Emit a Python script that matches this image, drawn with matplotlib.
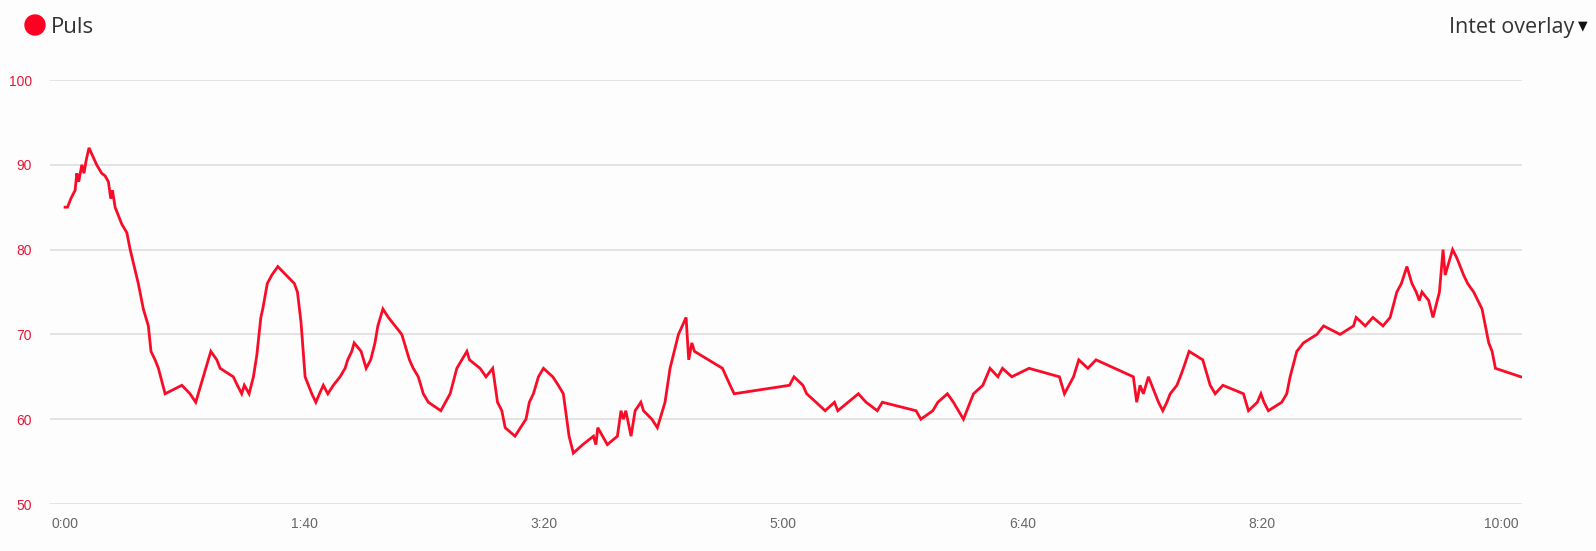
import matplotlib.pyplot as plt
from matplotlib.patches import Ellipse
from matplotlib.ticker import FuncFormatter, MultipleLocator

# time in seconds, pulse in bpm
seconds = [0, 1, 2.4, 4.2, 4.9, 5.7, 7.0, 7.9, 8.8, 10.0, 11.6, 13.2, 15.3, 16.7, 18.1,
           19.1, 19.8, 20.9, 22.3, 23.7, 25.8, 27.2, 30.6, 32.7, 34.8, 35.9, 37.6, 39.0,
           41.8, 48.8, 52.2, 54.6, 60.9, 63.4, 64.8, 70.3, 72.0, 73.8, 74.9, 76.9, 78.7,
           80.1, 81.8, 82.6, 84.5, 86.4, 88.9, 95.8, 97.1, 98.6, 100.3, 101.7, 103.1,
           104.8, 106.3, 107.9, 109.8, 112.1, 114.9, 117.0, 118.1, 119.8, 120.8, 123.7,
           125.8, 127.7, 129.5, 130.7, 132.8, 135.1, 137.9, 140.7, 143.9, 145.5, 147.6,
           149.7, 151.8, 157.0, 160.9, 163.7, 165.8, 167.9, 169.0, 173.4, 175.9, 178.7,
           180.7, 182.5, 183.9, 188.0, 192.6, 194.0, 195.7, 197.8, 199.9, 203.8, 206.1,
           208.2, 210.6, 212.4, 216.3, 220.8, 221.8, 222.6, 226.6, 230.8, 232.3, 233.3,
           234.3, 236.5, 238.2, 240.6, 241.7, 245.2, 247.5, 250.7, 252.8, 256.3, 259.5,
           260.6, 261.9, 263.0, 274.7, 277.9, 279.6, 302.7, 304.6, 308.3, 309.9, 313.8,
           317.6, 321.5, 322.9, 331.5, 334.7, 339.4, 341.5, 355.6, 357.6, 362.6, 364.7,
           368.7, 371.2, 375.4, 379.6, 383.5, 386.5, 389.8, 391.7, 395.6, 402.8, 415.5,
           417.6, 421.4, 423.6, 427.4, 430.8, 446.4, 447.8, 449.2, 450.6, 452.7, 454.1,
           456.9, 458.7, 460.4, 461.8, 464.6, 466.0, 467.3, 469.7, 475.4, 478.5, 480.6,
           483.8, 492.4, 494.5, 498.2, 499.7, 501.0, 502.8, 508.4, 510.5, 511.9, 514.7,
           517.5, 523.1, 525.9, 532.8, 538.4, 539.5, 543.3, 546.5, 550.7, 553.7, 556.5,
           558.4, 560.7, 562.8, 564.6, 565.9, 567.0, 569.8, 571.6, 574.3, 575.8, 576.7,
           579.8, 581.6, 584.4, 586.1, 588.6, 592.1, 593.5, 594.9, 596.3, 597.7, 608.3]
pulse = [85, 85, 86, 87, 89, 88, 90, 89, 90.5, 92, 91, 90, 89, 88.7, 88,
         86, 87, 85, 84, 83, 82, 80, 76, 73, 71, 68, 67, 66,
         63, 64, 63, 62, 68, 67, 66, 65, 64, 63, 64, 63, 65,
         67.5, 72, 73, 76, 77, 78, 76, 75, 71.4, 65, 64, 63,
         62, 63, 64, 63, 64, 65, 66, 67, 68, 69, 68,
         66, 67, 69, 71, 73, 72, 71, 70, 67, 66, 65,
         63, 62, 61, 63, 66, 67, 68, 67, 66, 65, 66,
         62, 61, 59, 58, 60, 62, 63, 65, 66, 65, 64,
         63, 58, 56, 57, 58, 57, 59, 57, 58, 61, 60,
         61, 58, 61, 62, 61, 60, 59, 62, 66, 70, 72,
         67, 69, 68, 66, 64, 63, 64, 65, 64, 63, 62,
         61, 62, 61, 63, 62, 61, 62, 61, 60, 61, 62,
         63, 62, 60, 63, 64, 66, 65, 66, 65, 66, 65,
         63, 65, 67, 66, 67, 65, 62, 64, 63, 65, 64,
         62, 61, 62, 63, 64, 65, 66, 68, 67, 64, 63,
         64, 63, 61, 62, 63, 62, 61, 62, 63, 65, 68,
         69, 70, 71, 70, 71, 72, 71, 72, 71, 72, 75,
         76, 78, 76, 75, 74, 75, 74, 72, 75, 80, 77,
         80, 79, 77, 76, 75, 73, 71, 69, 68, 66, 65]
y_ticks = [50, 60, 70, 80, 90, 100]

RED = '#f80c28'
W, H = 1596, 551


def mmss(x, pos):
    return f"{int(x) // 60}:{int(x) % 60:02d}"


def plot_graph():
    fig = plt.figure(figsize=(W / 100, H / 100), dpi=100)
    fig.patch.set_facecolor('#fdfdfd')
    ax = fig.add_axes([50 / W, 47 / H, 1472 / W, 424 / H])
    ax.set_facecolor('#fdfdfd')

    ax.plot(seconds, pulse, color=RED, lw=2.0, solid_joinstyle='miter', zorder=3)

    ax.set_xlim(-6.3, 608.8)
    ax.set_ylim(50, 100)
    ax.set_yticks(y_ticks)
    ax.xaxis.set_major_locator(MultipleLocator(100))
    ax.xaxis.set_major_formatter(FuncFormatter(mmss))
    ax.grid(axis='y', color='#dcdcdc', lw=1.1)
    ax.set_axisbelow(True)
    for s in ax.spines.values():
        s.set_visible(False)
    ax.tick_params(axis='both', length=0)
    ax.tick_params(axis='y', pad=13, labelcolor='#e31937', labelsize=10)
    ax.tick_params(axis='x', pad=9, labelcolor='#666666', labelsize=10)
    for lbl in ax.get_xticklabels() + ax.get_yticklabels():
        lbl.set_family('Liberation Sans')

    # legend dot + title
    fig.patches.append(Ellipse((35 / W, 1 - 25 / H), 20 / W, 20 / H,
                               transform=fig.transFigure, color='#ff0022'))
    fig.text(51 / W, 1 - 25 / H, "Puls", family='Open Sans', fontsize=16,
             color='#333333', va='center_baseline', ha='left')
    fig.text(1574 / W, 1 - 25 / H, "Intet overlay", family='Open Sans', fontsize=15.5,
             color='#333333', va='center_baseline', ha='right')
    fig.text(1583 / W, 1 - 26 / H, "\u25bc", family='DejaVu Sans', fontsize=9,
             color='#111111', va='center', ha='center')

    fig.savefig('out.png', dpi=100, facecolor=fig.get_facecolor())


def main():
    plot_graph()


if __name__ == "__main__":
    main()
